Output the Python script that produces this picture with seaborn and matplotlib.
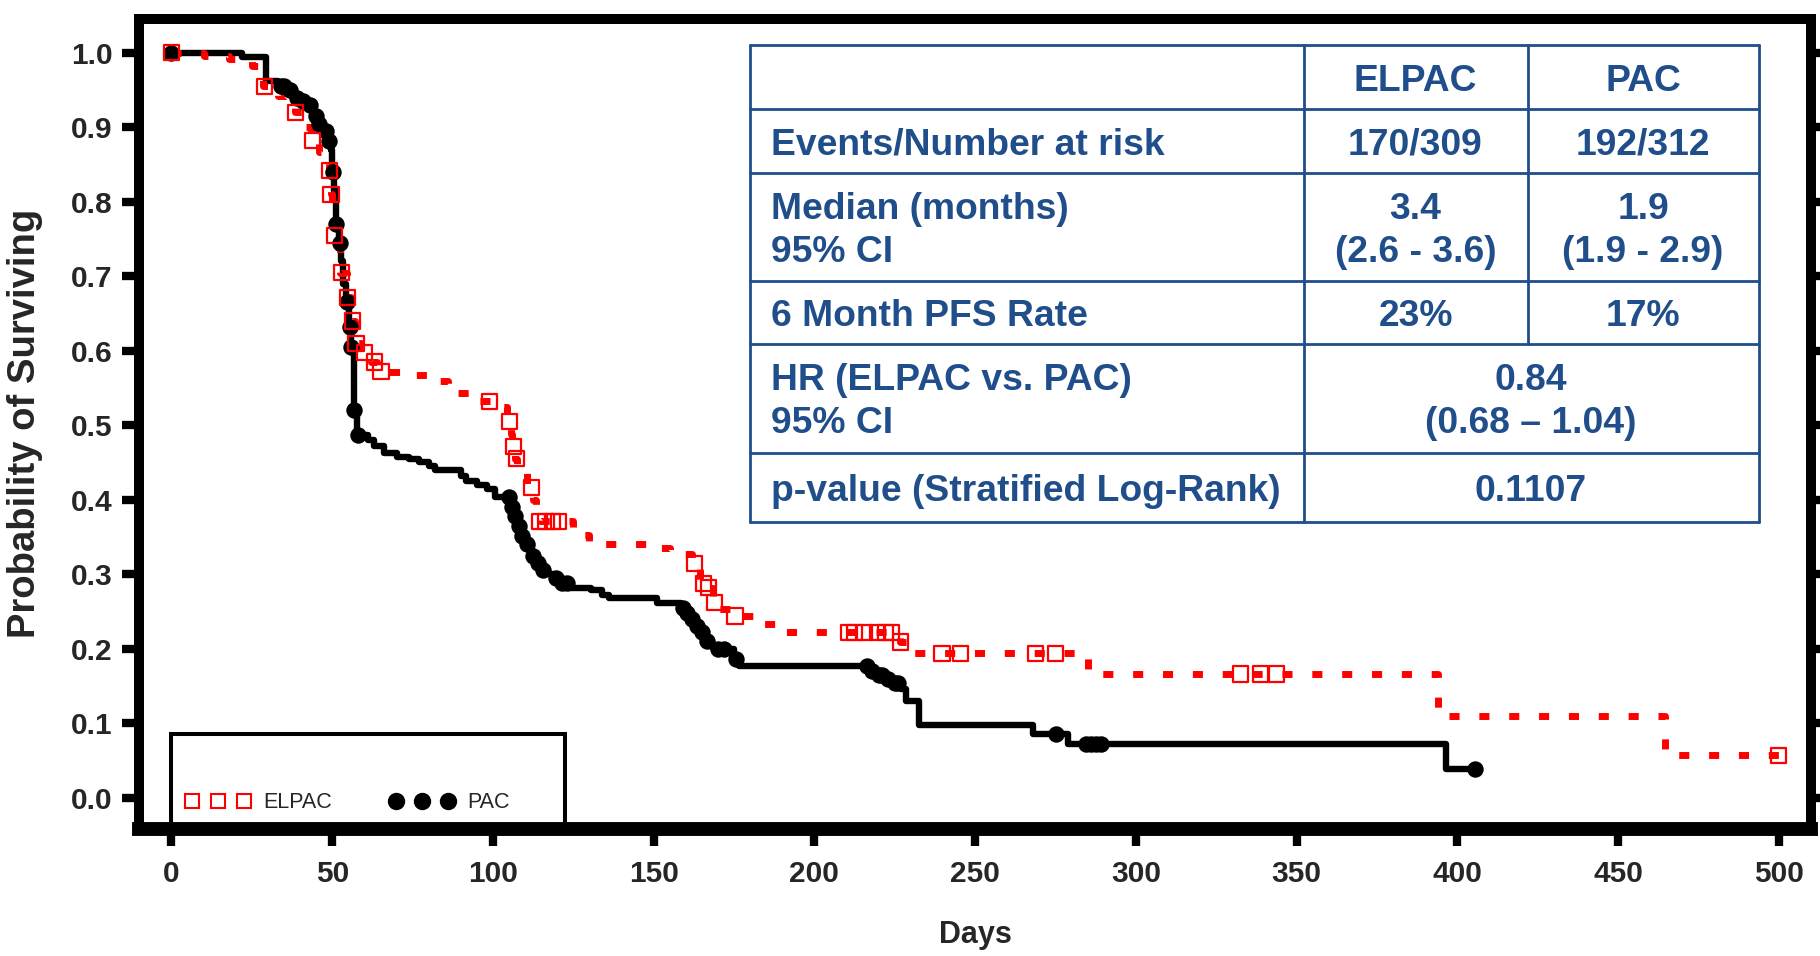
import numpy as np
import matplotlib
matplotlib.use("Agg")
import matplotlib.pyplot as plt
from matplotlib.lines import Line2D
from matplotlib.patches import Rectangle
import seaborn as sns

# PAC (black, solid): Kaplan-Meier steps (day, survival after step)
pac_days = [0, 22, 29.5, 33, 36, 38, 40, 42, 44, 45.5, 47, 48.5, 49.5, 50, 50.5,
            51.2, 52, 52.8, 53.5, 54.3, 55.3, 55.8, 56.8, 57.8, 61, 63, 66, 70,
            74, 77, 80, 82, 90, 91.5, 95, 98, 100.5, 105.5, 106.5, 107.5, 108.5,
            110, 112, 113, 115, 117, 119, 121, 124, 130.5, 134, 136, 151, 158.5,
            160, 161.5, 163, 164.5, 166, 168, 169.5, 175, 176.5, 217.5, 219.5,
            222, 224.5, 227, 228.5, 232.5, 268, 279, 396.5, 405.5]
pac_surv = [1.0, 0.995, 0.962, 0.955, 0.95, 0.94, 0.935, 0.93, 0.915, 0.905, 0.895,
            0.882, 0.87, 0.84, 0.815, 0.77, 0.745, 0.72, 0.69, 0.665, 0.632, 0.605,
            0.52, 0.487, 0.48, 0.472, 0.463, 0.458, 0.455, 0.451, 0.445, 0.44,
            0.432, 0.425, 0.42, 0.414, 0.404, 0.39, 0.378, 0.365, 0.352, 0.34,
            0.325, 0.315, 0.306, 0.3, 0.295, 0.288, 0.282, 0.279, 0.272, 0.268,
            0.262, 0.255, 0.248, 0.24, 0.23, 0.222, 0.21, 0.203, 0.199, 0.186,
            0.177, 0.17, 0.165, 0.16, 0.154, 0.146, 0.13, 0.098, 0.085, 0.072,
            0.038, 0.038]
pac_censored = [0, 34, 35, 37, 39, 41, 43, 45, 46, 48, 49, 50.2, 51.3, 52.5, 54.5,
                55.5, 56, 56.8, 58, 105, 106, 107, 108, 109, 110.5, 112.5, 114,
                115.5, 119.5, 121.5, 123, 159, 160.5, 162, 163.5, 165, 166.5, 170,
                172, 175.5, 216.5, 218, 220, 221, 223, 225, 226, 275, 284.5, 286,
                287.5, 289, 405.5]

# ELPAC (red, dotted)
elpac_days = [0, 10, 18, 25, 28.5, 31, 33, 36, 38.5, 41, 43.5, 46, 47.5, 49, 49.5,
              49.8, 50.5, 51, 52.5, 54.5, 56, 57, 59, 62, 64, 72, 80, 86, 93, 101,
              104.5, 105.5, 106, 106.8, 107.5, 110.5, 112.5, 113.5, 114.5, 125, 130,
              149, 155, 162, 164.5, 166.5, 168.5, 169.5, 174, 181, 189, 226.5, 231,
              285, 394, 464.5, 500]
elpac_surv = [1.0, 0.996, 0.992, 0.983, 0.955, 0.948, 0.942, 0.93, 0.92, 0.9, 0.882,
              0.867, 0.855, 0.842, 0.81, 0.78, 0.755, 0.74, 0.705, 0.672, 0.64, 0.61,
              0.598, 0.585, 0.572, 0.567, 0.56, 0.543, 0.532, 0.525, 0.505, 0.488,
              0.471, 0.455, 0.438, 0.416, 0.4, 0.383, 0.371, 0.353, 0.34, 0.335,
              0.327, 0.314, 0.288, 0.282, 0.262, 0.253, 0.244, 0.233, 0.222, 0.209,
              0.194, 0.166, 0.11, 0.057, 0.057]
elpac_censored = [0, 29, 38.7, 43.9, 49.1, 49.6, 50.7, 52.8, 54.8, 56.4, 57.4, 60,
                  63.1, 65.2, 99, 105.2, 106.3, 107.3, 112, 114.5, 116.5, 118.5,
                  120.5, 162.8, 165.4, 167, 169, 175.3, 210.5, 212.5, 215.5, 219.5,
                  222, 224, 226.8, 239.7, 245.4, 268.8, 275, 332.6, 338.8, 343.7,
                  499.8]

x_ticks = np.arange(0, 501, 50)
y_ticks = np.arange(0, 1.01, 0.1)

# summary table
row_labels = ["", "Events/Number at risk", "Median (months)\n95% CI",
              "6 Month PFS Rate", "HR (ELPAC vs. PAC)\n95% CI",
              "p-value (Stratified Log-Rank)"]
elpac_col = ["ELPAC", "170/309", "3.4\n(2.6 - 3.6)", "23%"]
pac_col = ["PAC", "192/312", "1.9\n(1.9 - 2.9)", "17%"]
merged_col = ["0.84\n(0.68 \u2013 1.04)", "0.1107"]


def surv_at(days, surv, t):
    idx = np.searchsorted(days, t, side="right") - 1
    return np.asarray(surv)[idx]


sns.set_style("ticks")
plt.rcParams["font.family"] = ["Liberation Sans", "DejaVu Sans"]

W, H = 1820, 956
fig = plt.figure(figsize=(W / 100, H / 100), dpi=100)
ax = fig.add_axes([139 / W, 1 - 829 / H, (1811 - 139) / W, (829 - 18.6) / H])

sns.lineplot(x=pac_days, y=pac_surv, drawstyle="steps-post", estimator=None,
             sort=False, color="black", lw=4.6, ax=ax)
sns.lineplot(x=elpac_days, y=elpac_surv, drawstyle="steps-post", estimator=None,
             sort=False, color="#FF0000", lw=5.0, ls=(0, (1.45, 2.85)), ax=ax)
sns.scatterplot(x=pac_censored, y=surv_at(pac_days, pac_surv, pac_censored),
                marker="o", s=140, color="black", edgecolor="black", linewidth=0,
                ax=ax, zorder=3)
sns.scatterplot(x=elpac_censored, y=surv_at(elpac_days, elpac_surv, elpac_censored),
                marker="s", s=120, facecolor="none", edgecolor="#FF0000",
                linewidth=1.6, ax=ax, zorder=4)

ax.set_xlim(-10.1, 510)
ax.set_ylim(-0.042, 1.046)
ax.set_xticks(x_ticks)
ax.set_yticks(y_ticks)
ax.set_yticklabels([f"{v:.1f}" for v in y_ticks])
ax.tick_params(axis="both", direction="out", length=12.5, width=6,
               labelsize=21.5, color="black")
ax.tick_params(axis="x", pad=10)
ax.tick_params(axis="y", pad=6.5, right=True)
for lab in ax.get_xticklabels() + ax.get_yticklabels():
    lab.set_fontweight("bold")
for side in ["left", "top", "right"]:
    ax.spines[side].set_linewidth(7.2)
ax.spines["bottom"].set_linewidth(10)
for sp in ax.spines.values():
    sp.set_color("black")
    sp.set_visible(True)

ax.set_xlabel("Days", fontsize=22, fontweight="bold", labelpad=23)
ax.set_ylabel("Probability of Surviving", fontsize=27.5, fontweight="bold",
              labelpad=20)

# legend box and entries
ax.add_patch(Rectangle((0, -0.042), 122.4, 0.128, fill=False, edgecolor="black",
                       lw=2.9, clip_on=False, zorder=5))
handles = [Line2D([], [], ls="none", marker="s", mfc="none", mec="#FF0000",
                  ms=10.5, mew=1.5, label="ELPAC"),
           Line2D([], [], ls="none", marker="o", color="black", ms=11.5,
                  label="PAC")]
ax.legend(handles=handles, ncol=2, numpoints=3, frameon=False, handlelength=3.0,
          handletextpad=0.6, columnspacing=2.68, fontsize=15.5, loc="center left",
          bbox_to_anchor=(185.5 / W, 1 - 803 / H), bbox_transform=fig.transFigure,
          borderpad=0, borderaxespad=0)

# summary table, drawn in figure pixel positions
blue = "#1F4E8A"
col_edges = [750, 1303.5, 1527.5, 1758.5]
row_edges = [45.3, 109, 173, 281, 343.6, 452.7, 522.3]


def fx(x):
    return x / W


def fy(y):
    return 1 - y / H


tlw = 2.0
for y in row_edges:
    fig.add_artist(Line2D([fx(col_edges[0]), fx(col_edges[3])], [fy(y), fy(y)],
                          color=blue, lw=tlw))
for x in (col_edges[0], col_edges[1], col_edges[3]):
    fig.add_artist(Line2D([fx(x), fx(x)], [fy(row_edges[0]), fy(row_edges[-1])],
                          color=blue, lw=tlw))
fig.add_artist(Line2D([fx(col_edges[2]), fx(col_edges[2])],
                      [fy(row_edges[0]), fy(row_edges[4])], color=blue, lw=tlw))

tkw = dict(color=blue, fontsize=26.8, fontweight="bold", va="center",
           linespacing=1.3)
dy = 4
for i, lab in enumerate(row_labels):
    yc = (row_edges[i] + row_edges[i + 1]) / 2 + dy
    fig.text(fx(771), fy(yc), lab, ha="left", **tkw)
for i, (a, b) in enumerate(zip(elpac_col, pac_col)):
    yc = (row_edges[i] + row_edges[i + 1]) / 2 + dy
    fig.text(fx((col_edges[1] + col_edges[2]) / 2), fy(yc), a, ha="center", **tkw)
    fig.text(fx((col_edges[2] + col_edges[3]) / 2), fy(yc), b, ha="center", **tkw)
for i, v in enumerate(merged_col):
    yc = (row_edges[i + 4] + row_edges[i + 5]) / 2 + dy
    fig.text(fx((col_edges[1] + col_edges[3]) / 2), fy(yc), v, ha="center", **tkw)

fig.savefig("out.png", dpi=100, facecolor="white")
